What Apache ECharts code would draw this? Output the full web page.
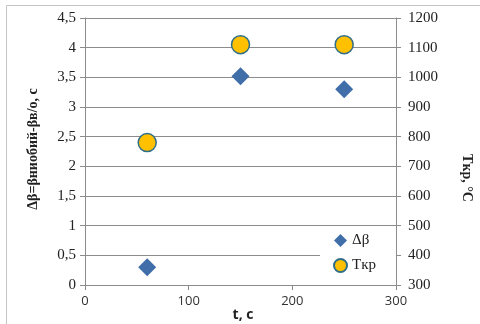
<!DOCTYPE html>
<html><head><meta charset="utf-8">
<script src="https://cdn.jsdelivr.net/npm/echarts@6/dist/echarts.min.js"></script>
<style>html,body{margin:0;padding:0;background:#fff}#c{width:480px;height:324px}</style>
</head><body><div id="c"></div>
<script>
const tValues = [60, 150, 250];
const dBeta = [0.3, 3.52, 3.3];
const tKr = [780, 1110, 1110];
const seriesNames = ['Δβ', 'Tкр'];
const xTitle = 't, c';
const yLeftTitle = 'Δβ=βниобий-βв/о, с';
const yRightTitle = 'Tкр, °С';

const chart = echarts.init(document.getElementById('c'), null, {renderer: 'canvas'});
const axisGray = '#8c8c8c';
const serif = 'Liberation Serif, serif';
const sans = 'Open Sans, Liberation Sans, sans-serif';
chart.setOption({
  animation: false,
  backgroundColor: '#fff',
  grid: {left: 85, right: 84, top: 18, bottom: 39},
  xAxis: {
    type: 'value', min: 0, max: 300, interval: 100,
    axisLine: {show: true, lineStyle: {color: axisGray}},
    axisTick: {show: true, length: 5, lineStyle: {color: axisGray}},
    splitLine: {show: false},
    axisLabel: {fontFamily: sans, fontSize: 13, color: '#333', margin: 10}
  },
  yAxis: [{
    type: 'value', min: 0, max: 4.5, interval: 0.5, position: 'left',
    axisLine: {show: true, lineStyle: {color: axisGray}},
    axisTick: {show: true, length: 5, lineStyle: {color: axisGray}},
    splitLine: {show: true, lineStyle: {color: axisGray}},
    axisLabel: {fontFamily: serif, fontSize: 15, color: '#222', margin: 9,
      formatter: v => String(v).replace('.', ',')}
  }, {
    type: 'value', min: 300, max: 1200, interval: 100, position: 'right',
    axisLine: {show: true, lineStyle: {color: axisGray}},
    axisTick: {show: true, length: 5, lineStyle: {color: axisGray}},
    splitLine: {show: false},
    axisLabel: {fontFamily: serif, fontSize: 15, color: '#222', margin: 12,
      formatter: v => String(v)}
  }],
  legend: {
    orient: 'vertical', left: 320, top: 229,
    padding: [4, 20, 6, 13], itemGap: 10, itemWidth: 13, itemHeight: 13,
    backgroundColor: '#fff',
    textStyle: {fontFamily: serif, fontSize: 15, color: '#222'},
    data: [{name: seriesNames[0], icon: 'diamond'}, {name: seriesNames[1], icon: 'circle'}]
  },
  series: [{
    name: seriesNames[0], type: 'scatter', yAxisIndex: 0, symbol: 'diamond', symbolSize: 18,
    itemStyle: {color: '#3f6ea8', opacity: 1},
    data: tValues.map((t, i) => [t, dBeta[i]])
  }, {
    name: seriesNames[1], type: 'scatter', yAxisIndex: 1, symbol: 'circle', symbolSize: 18,
    itemStyle: {color: '#ffc000', borderColor: '#2f6e88', borderWidth: 1.5, opacity: 1},
    data: tValues.map((t, i) => [t, tKr[i]])
  }],
  graphic: [
    {type: 'rect', shape: {x: 6.5, y: 5.5, width: 500, height: 340}, style: {fill: 'none', stroke: '#c4c4c4', lineWidth: 1}, silent: true, z: -10},
    {type: 'text', x: 243, y: 315, style: {text: xTitle, font: 'bold 14px ' + sans, fill: '#222', textAlign: 'center', textVerticalAlign: 'middle'}},
    {type: 'text', x: 33, y: 149, rotation: Math.PI / 2, style: {text: yLeftTitle, font: 'bold 14px ' + serif, fill: '#222', textAlign: 'center', textVerticalAlign: 'middle'}},
    {type: 'text', x: 467, y: 178, rotation: -Math.PI / 2, style: {text: yRightTitle, font: 'bold 14px ' + serif, fill: '#222', textAlign: 'center', textVerticalAlign: 'middle'}}
  ]
});
</script></body></html>
